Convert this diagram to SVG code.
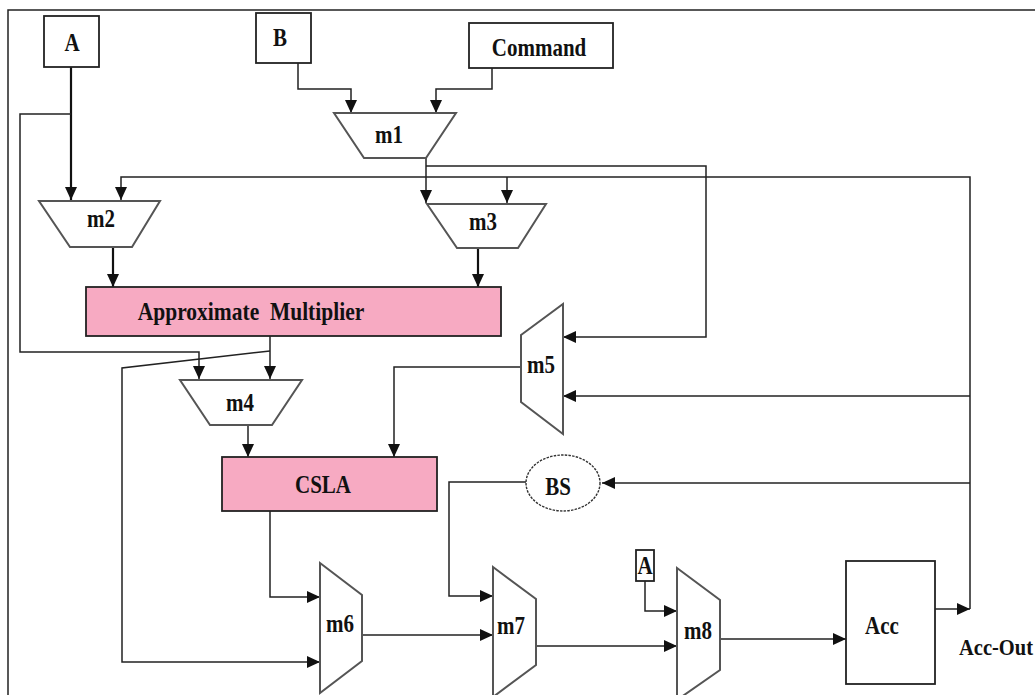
<svg xmlns="http://www.w3.org/2000/svg" width="1035" height="695" viewBox="0 0 1035 695">
  <style>
    .box { fill: #ffffff; stroke: #222; stroke-width: 1.8; }
    .pink { fill: #F7AAC2; stroke: #222; stroke-width: 1.8; }
    .mux { fill: #ffffff; stroke: #555; stroke-width: 2; stroke-linejoin: miter; }
    .wire { fill: none; stroke: #222; stroke-width: 1.5; }
    .wire-bold { fill: none; stroke: #111; stroke-width: 2.2; }
    .lbl { font-family: "Liberation Serif", "Times New Roman", serif; font-weight: bold; font-size: 21px; fill: #111; text-anchor: middle; }
    .lbl-start { font-family: "Liberation Serif", "Times New Roman", serif; font-weight: bold; font-size: 20.5px; fill: #111; text-anchor: start; }
  </style>
  <defs>
    <marker id="arrow" markerUnits="userSpaceOnUse" markerWidth="13" markerHeight="12" refX="13" refY="6" orient="auto">
      <path d="M0,0 L13,6 L0,12 z" fill="#111"/>
    </marker>
  </defs>

  <rect x="0" y="0" width="1035" height="695" fill="#ffffff"/>
  <!-- outer frame -->
  <path d="M8,695 V10 H1035" fill="none" stroke="#222" stroke-width="1.5"/>

  <!-- connectors -->
  <g id="connectors">
    <path class="wire-bold" d="M71,67 V200" marker-end="url(#arrow)"/>
    <path class="wire" d="M71,114 H20 V352 H199 V379" marker-end="url(#arrow)"/>
    <path class="wire" d="M298,63 V89 H351 V113" marker-end="url(#arrow)"/>
    <path class="wire" d="M492,68 V89 H436 V113" marker-end="url(#arrow)"/>
    <path class="wire" d="M426,158 V203" marker-end="url(#arrow)"/>
    <path class="wire" d="M426,166 H706 V337 H563" marker-end="url(#arrow)"/>
    <path class="wire" d="M970,609 V177 H121 V200" marker-end="url(#arrow)"/>
    <path class="wire" d="M507,177 V203" marker-end="url(#arrow)"/>
    <path class="wire" d="M970,396 H563" marker-end="url(#arrow)"/>
    <path class="wire" d="M970,483 H602" marker-end="url(#arrow)"/>
    <path class="wire-bold" d="M113,247 V287" marker-end="url(#arrow)"/>
    <path class="wire-bold" d="M478,247 V287" marker-end="url(#arrow)"/>
    <path class="wire" d="M270,336 V379" marker-end="url(#arrow)"/>
    <path class="wire" d="M270,351 L122,368 V662 H320" marker-end="url(#arrow)"/>
    <path class="wire" d="M248,425 V457" marker-end="url(#arrow)"/>
    <path class="wire" d="M521,367 H394 V457" marker-end="url(#arrow)"/>
    <path class="wire" d="M270,511 V597 H320" marker-end="url(#arrow)"/>
    <path class="wire" d="M362,635 H493" marker-end="url(#arrow)"/>
    <path class="wire" d="M526,482 H449 V596 H493" marker-end="url(#arrow)"/>
    <path class="wire" d="M536,646 H677" marker-end="url(#arrow)"/>
    <path class="wire" d="M645,581 V611 H677" marker-end="url(#arrow)"/>
    <path class="wire" d="M720,639 H846" marker-end="url(#arrow)"/>
    <path class="wire" d="M935,609 H970" marker-end="url(#arrow)"/>
  </g>

  <!-- inputs (labels are drawn slightly tall: scale 1 x 1.15) -->
  <g id="inA">
    <rect class="box" x="44" y="16" width="55" height="51"/>
    <text class="lbl" transform="matrix(1 0 0 1.15 72 51)">A</text>
  </g>
  <g id="inB">
    <rect class="box" x="256" y="13" width="55" height="50"/>
    <text class="lbl" transform="matrix(1 0 0 1.15 280 46)">B</text>
  </g>
  <g id="command">
    <rect class="box" x="469" y="23" width="144" height="45"/>
    <text class="lbl" transform="matrix(1 0 0 1.15 539 56)">Command</text>
  </g>

  <!-- multiplexers -->
  <g id="m1">
    <polygon class="mux" points="334,113 456,113 426,158 364,158"/>
    <text class="lbl" transform="matrix(1 0 0 1.15 389 143)">m1</text>
  </g>
  <g id="m2">
    <polygon class="mux" points="39,201 160,201 132,247 70,247"/>
    <text class="lbl" transform="matrix(1 0 0 1.15 101 227)">m2</text>
  </g>
  <g id="m3">
    <polygon class="mux" points="427,204 546,204 518,248 457,248"/>
    <text class="lbl" transform="matrix(1 0 0 1.15 483 230)">m3</text>
  </g>

  <g id="approx-mult">
    <rect class="pink" x="86" y="287" width="415" height="49"/>
    <text class="lbl" style="font-size:21.5px" transform="matrix(1 0 0 1.15 251 320)" xml:space="preserve">Approximate  Multiplier</text>
  </g>

  <g id="m4">
    <polygon class="mux" points="180,380 302,380 272,425 210,425"/>
    <text class="lbl" transform="matrix(1 0 0 1.15 240 411)">m4</text>
  </g>
  <g id="m5">
    <polygon class="mux" points="521,335 563,304 563,434 521,402"/>
    <text class="lbl" transform="matrix(1 0 0 1.15 541 373)">m5</text>
  </g>

  <g id="csla">
    <rect class="pink" x="222" y="457" width="215" height="54"/>
    <text class="lbl" transform="matrix(1 0 0 1.15 323 493)">CSLA</text>
  </g>

  <g id="bs">
    <ellipse cx="563" cy="483" rx="37" ry="28" fill="#ffffff" stroke="#333" stroke-width="1.4" stroke-dasharray="2.5,1.2"/>
    <text class="lbl" transform="matrix(1 0 0 1.15 558 495)">BS</text>
  </g>

  <g id="m6">
    <polygon class="mux" points="320,563 362,595 362,661 320,693"/>
    <text class="lbl" transform="matrix(1 0 0 1.15 340 632)">m6</text>
  </g>
  <g id="m7">
    <polygon class="mux" points="493,567 536,599 536,665 493,697"/>
    <text class="lbl" transform="matrix(1 0 0 1.15 511 634)">m7</text>
  </g>
  <g id="inA2">
    <rect class="box" x="636" y="550" width="18" height="31"/>
    <text class="lbl" transform="matrix(1 0 0 1.15 645 574)">A</text>
  </g>
  <g id="m8">
    <polygon class="mux" points="677,568 720,600 720,670 677,700"/>
    <text class="lbl" transform="matrix(1 0 0 1.15 698 639)">m8</text>
  </g>

  <g id="acc">
    <rect class="box" x="846" y="561" width="89" height="123"/>
    <text class="lbl" transform="matrix(1 0 0 1.15 882 634)">Acc</text>
  </g>
  <g id="acc-out">
    <text class="lbl-start" transform="matrix(1 0 0 1.15 959 655)">Acc-Out</text>
  </g>
</svg>
